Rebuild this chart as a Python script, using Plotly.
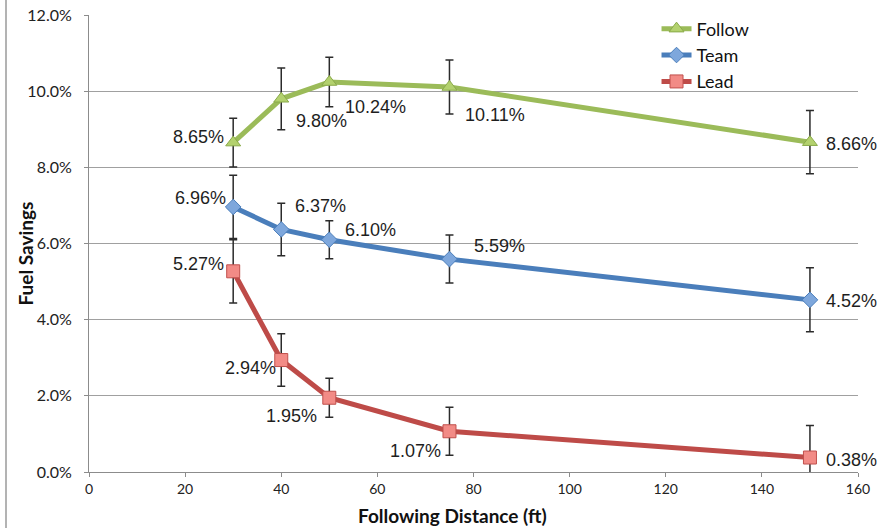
import plotly.graph_objects as go

# Following distance (ft) and measured fuel savings (%) per vehicle position
distance_ft = [30, 40, 50, 75, 150]

follow_savings = [8.65, 9.80, 10.24, 10.11, 8.66]
team_savings = [6.96, 6.37, 6.10, 5.59, 4.52]
lead_savings = [5.27, 2.94, 1.95, 1.07, 0.38]

follow_err = [0.64, 0.81, 0.65, 0.71, 0.83]
team_err = [0.83, 0.69, 0.50, 0.63, 0.84]
lead_err = [0.83, 0.69, 0.51, 0.63, 0.84]

y_ticks = [0, 2, 4, 6, 8, 10, 12]
x_ticks = [0, 20, 40, 60, 80, 100, 120, 140, 160]

# Pixel offsets of each value label relative to its point (dx right, dy down)
follow_label_off = [(-35, -6), (40, 22), (46, 25), (46, 28), (42, 2)]
team_label_off = [(-33, -9), (39, -23), (41, -10), (50, -13), (42, 1)]
lead_label_off = [(-35, -7), (-31, 8), (-38, 18), (-34, 20), (42, 2)]

series = [
    dict(name="Follow", y=follow_savings, err=follow_err, off=follow_label_off,
         line="#9BBB59", fill="#B3D16E", edge="#8AAA4A", symbol="triangle-up", size=13),
    dict(name="Team", y=team_savings, err=team_err, off=team_label_off,
         line="#4A7EBB", fill="#7EA7DC", edge="#4A7EBB", symbol="diamond", size=12),
    dict(name="Lead", y=lead_savings, err=lead_err, off=lead_label_off,
         line="#BE4B48", fill="#F28B86", edge="#C0504D", symbol="square", size=13),
]

fig = go.Figure()
annotations = []

for s in series:
    fig.add_trace(go.Scatter(
        x=distance_ft,
        y=s["y"],
        name=s["name"],
        mode="lines+markers",
        line=dict(color=s["line"], width=5),
        marker=dict(symbol=s["symbol"], size=s["size"], color=s["fill"],
                    line=dict(color=s["edge"], width=1)),
        error_y=dict(type="data", array=s["err"], visible=True,
                     color="#2b2b2b", thickness=1.5, width=4),
        cliponaxis=False,
    ))
    for xv, yv, (dx, dy) in zip(distance_ft, s["y"], s["off"]):
        annotations.append(dict(
            x=xv, y=yv, xref="x", yref="y",
            text=f"{yv:.2f}%", showarrow=False,
            xanchor="center", yanchor="middle",
            xshift=dx, yshift=-dy,
            font=dict(family="Liberation Sans, Arial, sans-serif", size=18, color="#1e1e1e"),
        ))

# Axis titles
annotations.append(dict(
    text="<b>Fuel Savings</b>", xref="paper", yref="paper", x=0, y=0.5,
    xshift=-64, yshift=-10, showarrow=False, textangle=-90,
    xanchor="center", yanchor="middle",
    font=dict(family="Lato, sans-serif", size=19, color="#111"),
))
annotations.append(dict(
    text="<b>Following Distance (ft)</b>", xref="paper", yref="paper", x=0.473, y=0,
    yshift=-43, showarrow=False, xanchor="center", yanchor="middle",
    font=dict(family="Lato, sans-serif", size=19, color="#111"),
))

fig.update_layout(
    width=889, height=528,
    margin=dict(l=89, r=31, t=15, b=56, autoexpand=False),
    paper_bgcolor="white",
    plot_bgcolor="white",
    showlegend=True,
    legend=dict(
        x=0.738, y=1.01, xanchor="left", yanchor="top",
        font=dict(family="Lato, sans-serif", size=18, color="#111"),
        bgcolor="rgba(0,0,0,0)", itemwidth=30,
        traceorder="normal",
    ),
    annotations=annotations,
    shapes=[dict(type="line", xref="paper", yref="paper", xsizemode="pixel",
                 xanchor=0, x0=-83, x1=-83, y0=-0.2, y1=1.1,
                 line=dict(color="#9a9a9a", width=1.5))],
    xaxis=dict(
        range=[0, 160], tickvals=x_ticks, showgrid=False, zeroline=False,
        showline=True, linecolor="#8c8c8c", linewidth=1, automargin=False,
        ticks="outside", ticklen=4, tickcolor="#8c8c8c",
        tickfont=dict(family="Lato, sans-serif", size=14, color="#222"),
    ),
    yaxis=dict(
        range=[0, 12], tickvals=y_ticks, ticktext=[f"{v:.1f}%" for v in y_ticks],
        showgrid=True, gridcolor="#a0a0a0", gridwidth=1, zeroline=False,
        showline=True, linecolor="#8c8c8c", linewidth=1, automargin=False,
        ticks="outside", ticklen=4, tickcolor="#8c8c8c", ticklabelstandoff=9,
        tickfont=dict(family="Lato, sans-serif", size=16, color="#222"),
    ),
)

fig.write_html("out.html")
